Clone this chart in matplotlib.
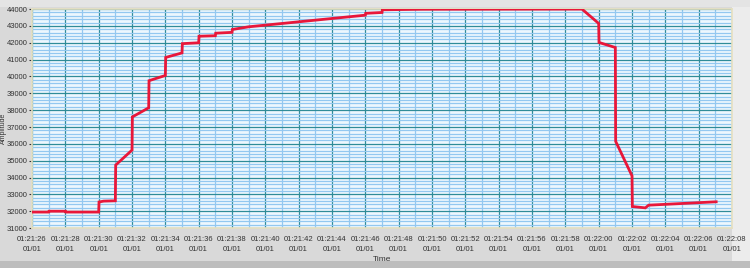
import matplotlib.pyplot as plt
from matplotlib.ticker import MultipleLocator, FuncFormatter
from matplotlib.patches import Rectangle

# time in seconds after 01:21:00, amplitude values
t = [26, 27, 27.02, 28, 28.02, 30, 30.02, 30.3, 31, 31.02, 32, 32.02, 33, 33.02, 34,
     34.02, 35, 35.02, 36, 36.02, 37, 37.02, 38, 38.02, 39, 46, 46.02, 47, 47.02,
     49.4, 59, 60, 60.02, 61, 61.02, 62, 62.02, 62.8, 63, 67.05]
amp = [31950, 31950, 32000, 32000, 31950, 31950, 32550, 32600, 32620, 34740, 35630,
       37600, 38140, 39750, 40060, 41130, 41400, 41950, 42000, 42390, 42420, 42570,
       42620, 42790, 42950, 43640, 43750, 43800, 43960, 43990, 44000, 43150,
       42020, 41720, 36150, 34100, 32280, 32200, 32360, 32560]

xmin, xmax = 26, 68
ymin, ymax = 31000, 44000

plt.rcParams['font.family'] = ['Liberation Sans', 'DejaVu Sans']

fig = plt.figure(figsize=(7.5, 2.68), dpi=100)
fig.patch.set_facecolor('#d9d9d9')
# frame strips round the chart like the original panel
fig.patches.append(Rectangle((0.976, 0.0), 0.024, 1.0, transform=fig.transFigure,
                             facecolor='#ececec', edgecolor='none', zorder=-1))
fig.patches.append(Rectangle((0.0, 0.0), 1.0, 0.025, transform=fig.transFigure,
                             facecolor='#bdbdbd', edgecolor='none', zorder=-1))
fig.patches.append(Rectangle((0.0, 0.975), 1.0, 0.025, transform=fig.transFigure,
                             facecolor='#e4e4e4', edgecolor='none', zorder=-1))

ax = fig.add_axes([0.0427, 0.149, 0.9333, 0.817])
ax.set_facecolor('#edf7fe')
ax.set_xlim(xmin, xmax)
ax.set_ylim(ymin, ymax)

ax.xaxis.set_major_locator(MultipleLocator(2))
ax.xaxis.set_minor_locator(MultipleLocator(1))
ax.yaxis.set_major_locator(MultipleLocator(1000))
ax.yaxis.set_minor_locator(MultipleLocator(200))
ax.grid(which='minor', color='#93c8f0', lw=0.9)
ax.grid(which='major', color='#2f8c98', lw=0.9)
ax.set_axisbelow(True)

ax.plot(t, amp, color='#e8173a', lw=2, solid_joinstyle='miter', zorder=3)


def fmt_time(v, pos):
    s = int(round(v))
    m = 21 + s // 60
    return '01:%02d:%02d\n01/01' % (m, s % 60)


ax.xaxis.set_major_formatter(FuncFormatter(fmt_time))
ax.yaxis.set_major_formatter(FuncFormatter(lambda v, p: '%d' % v))
ax.tick_params(axis='x', which='both', length=0, labelsize=5.5, colors='#333333', pad=6)
ax.tick_params(axis='y', which='major', length=2, labelsize=5.5, colors='#333333', pad=1)
ax.tick_params(axis='y', which='minor', length=0)
for lab in ax.get_xticklabels():
    lab.set_linespacing(1.6)

for s in ax.spines.values():
    s.set_color('#e6e0c0')
    s.set_linewidth(1.2)

ax.set_xlabel('Time', fontsize=6, color='#333333', labelpad=2)
fig.text(0.004, 0.52, 'Amplitude', rotation=90, fontsize=5, color='#333333',
         ha='center', va='center')

fig.savefig('out.png', dpi=100, facecolor=fig.get_facecolor())
